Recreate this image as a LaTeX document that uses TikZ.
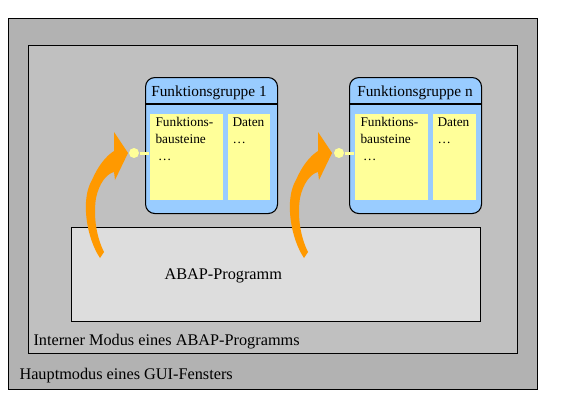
\documentclass[tikz,border=0pt]{standalone}
\usepackage{fontspec}
\setmainfont{Liberation Serif}
\usetikzlibrary{positioning}
\definecolor{outergray}{HTML}{B2B2B2}
\definecolor{innergray}{HTML}{C0C0C0}
\definecolor{progfill}{HTML}{DDDDDD}
\definecolor{fgblue}{HTML}{99CCFF}
\definecolor{fbyellow}{HTML}{FFFF99}
\definecolor{callorange}{HTML}{FF9900}
\begin{document}
\begin{tikzpicture}[x=0.75pt, y=-0.75pt, line width=0.8pt, font=\fontsize{11.5}{14}\selectfont]
\tikzset{
	modebox/.style={draw, anchor=north west, inner sep=0pt},
	fgbox/.style={draw, anchor=north west, rounded corners=7pt, fill=fgblue, minimum width=99pt, minimum height=102pt, inner sep=0pt},
	fbbox/.style={anchor=north west, fill=fbyellow, minimum height=64.5pt, inner sep=0pt},
	smalltext/.style={anchor=north west, align=left, inner sep=0pt, font=\fontsize{10}{12.75}\selectfont},
	modelabel/.style={anchor=base west, inner sep=0pt, font=\fontsize{12.2}{14}\selectfont},
	dot/.style={circle, fill=fbyellow, minimum size=7.5pt, inner sep=0pt},
	dotline/.style={draw=fbyellow, line width=2.25pt},
	callarrow/.pic={
		\fill[callorange] (100,258) .. controls (87,239) and (80,200) .. (92,180)
			.. controls (98,166) and (106,156) .. (114,151) -- (114,132) -- (128,153)
			-- (115,180) -- (114,172) .. controls (106,174) and (99,184) .. (96,198)
			.. controls (93,218) and (97,238) .. (104,252) -- cycle;
	}
}
\useasboundingbox (0,0) rectangle (582,407);

% modes
\node[modebox, fill=outergray, minimum width=396.75pt, minimum height=278.25pt] (haupt) at (8,18) {};
\node[modebox, fill=innergray, minimum width=366.75pt, minimum height=231pt] (intern) at (28,45) {};
\node[modebox, fill=progfill, minimum width=306.75pt, minimum height=70.5pt] (prog) at (71,227) {};

\node[modelabel] (hauptlabel) at (19,379) {Hauptmodus eines GUI-Fensters};
\node[modelabel] (internlabel) at (33,345) {Interner Modus eines ABAP-Programms};
\node[modelabel] (proglabel) at (164,279) {ABAP-Programm};

% function groups
\node[fgbox] (fg1) at (145,77) {};
\draw (fg1.west |- 0,104) -- (fg1.east |- 0,104);
\node[anchor=base, inner sep=0pt] (fg1title) at (209,96) {Funktionsgruppe 1};
\node[fbbox, minimum width=54.75pt] (fb1) at (149,113) {};
\node[fbbox, minimum width=31.5pt] (dat1) at (227,113) {};
\node[smalltext] (fb1text) at (155,117) {Funktions-\\bausteine\\\hspace{2pt}\ldots};
\node[smalltext] (dat1text) at (232,117) {Daten\\\ldots};

\node[fgbox] (fgn) at (349,77) {};
\draw (fgn.west |- 0,104) -- (fgn.east |- 0,104);
\node[anchor=base, inner sep=0pt] (fgntitle) at (415,96) {Funktionsgruppe n};
\node[fbbox, minimum width=54.75pt] (fbn) at (354,113) {};
\node[fbbox, minimum width=32.25pt] (datn) at (432,113) {};
\node[smalltext] (fbntext) at (360,117) {Funktions-\\bausteine\\\hspace{2pt}\ldots};
\node[smalltext] (datntext) at (437,117) {Daten\\\ldots};

% calls
\node[dot] (dot1) at (134,153) {};
\draw[dotline] (dot1) -- (dot1 -| fb1.west);
\node[dot] (dotn) at (339,153) {};
\draw[dotline] (dotn) -- (dotn -| fbn.west);

\pic at (0,0) {callarrow};
\pic at (204,0) {callarrow};

\end{tikzpicture}
\end{document}
